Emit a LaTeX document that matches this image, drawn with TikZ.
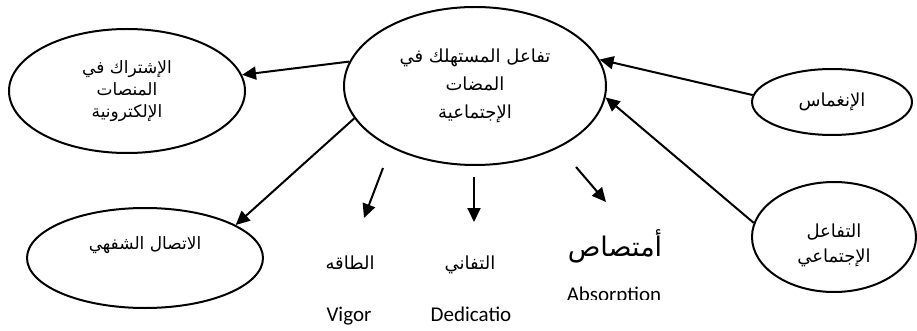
\documentclass[tikz,border=0pt]{standalone}
\usepackage{fontspec}
\setmainfont{Carlito}
\newfontfamily\arabicfont[Script=Arabic]{DejaVu Sans}
\TeXXeTstate=1
\usetikzlibrary{shapes.geometric, arrows.meta}
\newcommand{\artxt}[1]{{\arabicfont\beginR #1\endR}}

\begin{document}
\begin{tikzpicture}[
    x=1pt, y=-1pt,
    oval/.style={draw, ellipse, line width=2pt, inner sep=0pt, align=center},
    fl/.style={-{Triangle[length=14pt, width=13pt]}, line width=2pt},
    arlbl/.style={font=\fontsize{18}{22}\selectfont, align=center},
    enlbl/.style={font=\fontsize{21}{22}\selectfont, anchor=base}
  ]
    \useasboundingbox (0,0) rectangle (917,331);

    % --- المركز والعناصر ---
    \node[oval, minimum width=262pt, minimum height=158pt,
      font=\fontsize{18}{28}\selectfont] (c) at (475,86)
      {\artxt{تفاعل المستهلك في}\\\artxt{المضات}\\\artxt{الإجتماعية}};
    \node[oval, minimum width=236pt, minimum height=124pt,
      font=\fontsize{17}{22}\selectfont] (tl) at (127,91)
      {\artxt{الإشتراك في}\\\artxt{المنصات}\\\artxt{الإلكترونية}};
    \node[oval, minimum width=160pt, minimum height=66pt,
      font=\fontsize{18}{22}\selectfont] (im) at (832,102) {\artxt{الإنغماس}};
    \node[oval, minimum width=164pt, minimum height=110pt] (si) at (834,237) {};
    \node[arlbl, font=\fontsize{18}{25}\selectfont] (sitxt) at (834,245)
      {\artxt{التفاعل}\\\artxt{الإجتماعي}};
    \node[oval, minimum width=236pt, minimum height=100pt] (vc) at (145,258) {};
    \node[arlbl, font=\fontsize{17}{25}\selectfont] (vctxt) at (145,245)
      {\artxt{الاتصال الشفهي}};

    \draw[fl] (c.169) -- (tl.8);
    \draw[fl] (im.175) -- (c.12);
    \draw[fl] (si.170) -- (c.-5);
    \draw[fl] (c.195) -- (vc.20);

    % --- الأبعاد ---
    \coordinate (v1s) at (383,168);
    \coordinate (v1e) at (364,218);
    \coordinate (v2s) at (474,177);
    \coordinate (v2e) at (474,222);
    \coordinate (v3s) at (576,167);
    \coordinate (v3e) at (606,202);
    \draw[fl] (v1s) -- (v1e);
    \draw[fl] (v2s) -- (v2e);
    \draw[fl] (v3s) -- (v3e);

    \node[arlbl] (vigar) at (350,263) {\artxt{الطاقه}};
    \node[enlbl] (vigen) at (349,321) {Vigor};
    \node[arlbl] (dedar) at (470,265) {\artxt{التفاني}};
    \node[enlbl] (deden) at (471,321) {Dedicatio};
    \node[arlbl, font=\fontsize{27}{28}\selectfont] (absar) at (615,246) {\artxt{أمتصاص}};
    \begin{scope}
      \clip (540,270) rectangle (700,299);
      \node[enlbl] (absen) at (614,301) {Absorption};
    \end{scope}
  \end{tikzpicture}
\end{document}
